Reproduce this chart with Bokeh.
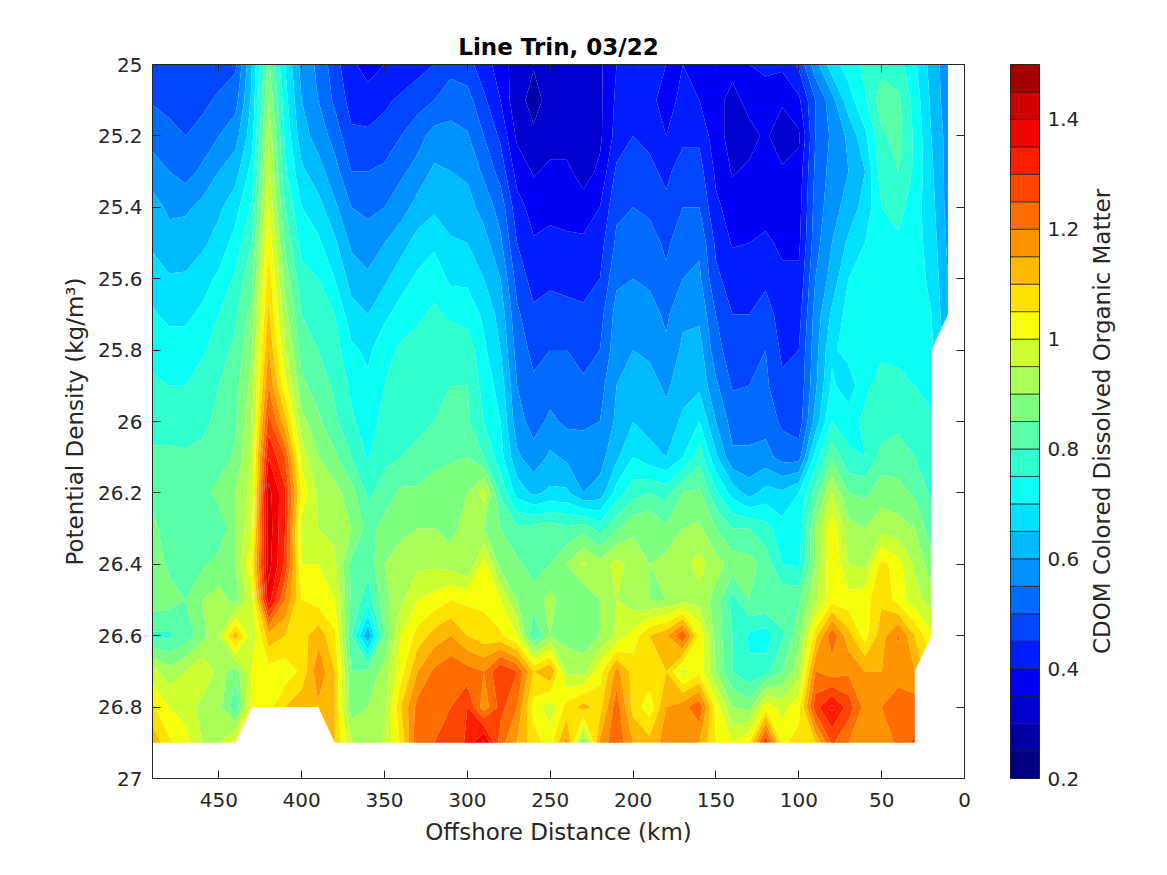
import numpy as np
from bokeh.plotting import figure
from bokeh.layouts import row
from bokeh.models import Range1d, LinearAxis, FixedTicker
from bokeh.embed import file_html
from bokeh.resources import INLINE

n = float("nan")
density = [25.0, 25.1, 25.2, 25.3, 25.4, 25.5, 25.6, 25.7, 25.8, 25.9,
           26.0, 26.1, 26.2, 26.3, 26.4, 26.5, 26.6, 26.7, 26.8, 26.9]
distance = [490, 480, 470, 460, 450, 440, 430, 420, 410, 400, 390, 380, 370, 360, 350, 340, 330,
            320, 310, 300, 290, 280, 270, 260, 250, 240, 230, 220, 210, 200, 190, 180, 170, 160,
            150, 140, 130, 120, 110, 100, 90, 80, 70, 60, 50, 40, 30, 20, 10]

c490 = [.47,.495,.53,.575,.62,.64,.68,.705,.73,.76,.78,.81,.84,.86,.88,.88,.79,.97,1.06,1.14]
c480 = [.47,.485,.515,.55,.59,.62,.655,.69,.72,.75,.78,.81,.82,.83,.84,.87,.79,.92,1.0,1.06]
c470 = [.47,.48,.50,.53,.59,.63,.655,.69,.72,.75,.77,.81,.82,.82,.81,.85,.82,.95,.98,1.02]
c460 = [.47,.485,.52,.56,.615,.64,.68,.71,.74,.78,.79,.81,.83,.82,.84,.90,.88,1.0,.93,.95]
c450 = [.47,.51,.55,.60,.64,.67,.71,.75,.78,.80,.81,.82,.87,.81,.87,.92,.95,.93,.92,.95]
c440 = [.49,.53,.58,.63,.68,.72,.76,.79,.81,.83,.84,.86,.90,.90,.90,.88,1.13,.87,.81,1.02]
c430 = [.65,.66,.68,.72,.76,.80,.84,.87,.90,.92,.94,.96,.97,.99,1.05,.98,.96,1.0,1.02,n]
c420 = [.86,.90,.94,.97,1.0,1.04,1.08,1.11,1.15,1.20,1.27,1.35,1.42,1.43,1.42,1.38,1.13,1.03,1.03,n]
c410 = [.70,.72,.74,.76,.80,.84,.88,.92,.96,1.02,1.12,1.25,1.31,1.30,1.29,1.20,1.10,1.02,1.10,n]
c400 = [.58,.60,.62,.66,.70,.73,.77,.80,.83,.86,.92,.98,1.04,.97,1.0,1.05,1.08,1.06,1.14,n]
c390 = [.54,.55,.58,.62,.67,.71,.75,.78,.80,.83,.86,.90,.94,.95,1.0,1.03,1.13,1.19,1.14,n]
c380 = [.47,.49,.53,.57,.61,.66,.70,.75,.77,.79,.81,.86,.92,.94,.96,1.0,1.06,1.10,1.10,1.10]
c370 = [.41,.43,.46,.50,.55,.59,.63,.67,.71,.74,.76,.80,.87,.90,.84,.84,.80,.85,.87,.96]
c360 = [.38,.42,.46,.50,.54,.57,.61,.65,.69,.71,.72,.745,.79,.83,.82,.77,.60,.86,.90,.92]
c350 = [.40,.44,.47,.51,.55,.60,.64,.69,.73,.75,.77,.79,.82,.87,.90,.88,.85,.92,.93,.96]
c340 = [.41,.46,.50,.54,.58,.63,.68,.72,.76,.77,.78,.80,.86,.89,.92,.94,1.0,1.03,1.10,1.06]
c330 = [.43,.48,.53,.57,.62,.67,.71,.74,.77,.79,.79,.81,.86,.90,.94,1.0,1.07,1.15,1.22,1.25]
c320 = [.45,.50,.57,.61,.64,.69,.73,.76,.79,.80,.80,.83,.88,.90,.94,1.02,1.12,1.21,1.24,1.25]
c310 = [.48,.53,.565,.60,.63,.655,.69,.74,.79,.80,.81,.84,.90,.88,.93,1.05,1.15,1.24,1.25,1.26]
c300 = [.47,.52,.555,.59,.62,.65,.69,.73,.78,.80,.81,.85,.90,.93,.90,1.04,1.10,1.22,1.30,1.31]
c290 = [.42,.46,.50,.54,.58,.62,.65,.69,.71,.73,.75,.80,.97,.90,1.02,1.04,1.07,1.20,1.17,1.42]
c280 = [.38,.40,.44,.48,.53,.56,.60,.63,.65,.68,.70,.72,.79,.85,.88,1.0,1.06,1.30,1.27,1.22]
c270 = [.32,.31,.34,.38,.42,.45,.48,.51,.53,.55,.57,.61,.68,.81,.86,.90,1.0,1.25,1.20,1.15]
c260 = [.302,.29,.305,.345,.38,.405,.43,.46,.485,.51,.53,.57,.64,.82,.83,.87,.80,1.1,1.03,1.07]
c250 = [.31,.31,.33,.36,.39,.41,.44,.47,.50,.53,.56,.61,.66,.83,.85,.92,.90,1.15,.97,1.03]
c240 = [.31,.31,.33,.36,.38,.41,.43,.47,.50,.52,.54,.59,.66,.81,.90,.86,.88,.94,1.07,1.17]
c230 = [.31,.31,.31,.33,.37,.41,.43,.46,.48,.51,.54,.58,.60,.83,.96,.85,.87,.93,1.12,.86]
c220 = [.34,.34,.34,.36,.40,.43,.45,.48,.50,.53,.55,.58,.62,.78,.92,.90,.90,1.03,1.08,1.16]
c210 = [.40,.41,.42,.46,.49,.51,.54,.57,.58,.60,.61,.64,.72,.84,.97,.95,.96,1.17,1.23,1.24]
c200 = [.41,.42,.45,.47,.50,.53,.55,.59,.60,.63,.65,.70,.78,.89,.93,.92,1.02,1.08,1.08,1.15]
c190 = [.41,.41,.44,.46,.49,.52,.54,.57,.59,.62,.63,.67,.80,.90,.90,.90,1.10,1.08,1.02,1.12]
c180 = [.40,.385,.40,.44,.46,.49,.51,.54,.56,.59,.62,.65,.78,.86,.92,.90,1.14,1.10,1.15,1.17]
c170 = [.40,.41,.44,.47,.50,.53,.55,.59,.61,.63,.66,.70,.85,.90,.93,.93,1.25,.98,1.18,1.15]
c160 = [.39,.40,.44,.47,.50,.54,.56,.59,.62,.64,.70,.78,.86,.91,.97,.93,1.04,1.03,1.24,1.15]
c150 = [.36,.37,.37,.39,.41,.44,.46,.50,.52,.56,.60,.66,.76,.85,.92,.88,.88,.90,1.03,1.05]
c140 = [.37,.33,.33,.345,.38,.395,.43,.45,.47,.495,.53,.56,.68,.80,.88,.78,.80,.80,.90,1.0]
c130 = [.40,.37,.33,.36,.385,.40,.43,.45,.48,.50,.53,.56,.63,.80,.87,.85,.74,.76,.88,1.05]
c120 = [.41,.38,.36,.37,.38,.41,.44,.47,.50,.51,.53,.57,.67,.77,.83,.85,.72,.78,1.03,1.30]
c110 = [.41,.36,.31,.36,.37,.39,.41,.43,.44,.46,.49,.53,.66,.72,.75,.84,.79,.85,.98,1.04]
c100 = [.46,.39,.34,.37,.38,.39,.41,.43,.45,.46,.47,.53,.70,.72,.74,.84,.88,.93,1.03,1.07]
c090 = [.58,.50,.50,.51,.52,.53,.55,.57,.58,.59,.62,.72,.82,.90,.90,.94,1.08,1.20,1.28,1.10]
c080 = [.68,.58,.56,.57,.58,.60,.62,.66,.69,.71,.75,.84,.95,1.03,1.05,1.03,1.24,1.17,1.36,1.26]
c070 = [.72,.68,.61,.60,.62,.66,.70,.72,.72,.67,.73,.76,.85,.92,.95,1.02,1.12,1.19,1.28,1.20]
c060 = [.77,.74,.69,.65,.67,.70,.72,.73,.74,.74,.76,.75,.84,.90,.94,1.03,1.03,1.15,1.18,1.17]
c050 = [.78,.83,.79,.78,.75,.74,.73,.73,.74,.77,.77,.82,.88,.93,1.07,1.09,1.13,1.15,1.20,1.17]
c040 = [.77,.81,.82,.80,.77,.74,.73,.73,.74,.76,.79,.82,.87,.92,1.02,1.03,1.21,1.16,1.25,1.21]
c030 = [.71,.73,.74,.74,.72,.72,.72,.72,.73,.75,.77,.80,.84,.90,.94,.97,1.10,1.15,1.23,1.26]
c020 = [.63,.64,.65,.66,.67,.68,.69,.70,.71,.73,.76,.78,.79,.82,.87,.93,1.01,n,n,n]
c010 = [.57,.57,.58,.58,.58,.59,.60,.61,n,n,n,n,n,n,n,n,n,n,n,n]

columns = [c490,c480,c470,c460,c450,c440,c430,c420,c410,c400,c390,c380,c370,c360,c350,c340,c330,
           c320,c310,c300,c290,c280,c270,c260,c250,c240,c230,c220,c210,c200,c190,c180,c170,c160,
           c150,c140,c130,c120,c110,c100,c090,c080,c070,c060,c050,c040,c030,c020,c010]

levels = [round(0.2 + 0.05 * i, 2) for i in range(27)]
y_ticks = [25, 25.2, 25.4, 25.6, 25.8, 26, 26.2, 26.4, 26.6, 26.8, 27]
x_ticks = [450, 400, 350, 300, 250, 200, 150, 100, 50, 0]
cb_ticks = [0.2, 0.4, 0.6, 0.8, 1, 1.2, 1.4]
FONT = "DejaVu Sans"
INK = "#262626"


def jet(t):
    def ch(c):
        return int(round(255 * min(1.0, max(0.0, 1.5 - abs(4 * t - c)))))
    return "#%02x%02x%02x" % (ch(3), ch(2), ch(1))


colors = [jet((lv - 0.2) / 1.3) for lv in levels[:-1]]

Z = np.array(columns).T          # rows = density, cols = distance (descending)
X = np.array(distance)[::-1]
Z = Z[:, ::-1]
Y = np.array(density)


def style_axis(ax, size="20px"):
    ax.axis_line_color = INK
    ax.axis_line_width = 1
    ax.major_tick_line_color = INK
    ax.major_tick_in = 8
    ax.major_tick_out = 0
    ax.minor_tick_in = 0
    ax.minor_tick_out = 0
    ax.major_label_text_color = INK
    ax.major_label_text_font = FONT
    ax.major_label_text_font_size = size
    ax.axis_label_text_color = INK
    ax.axis_label_text_font = FONT
    ax.axis_label_text_font_style = "normal"


p = figure(frame_width=812, frame_height=714,
           x_range=Range1d(490, 0), y_range=Range1d(27, 25),
           output_backend="svg", toolbar_location=None,
           min_border_left=152, min_border_right=46, min_border_top=64, min_border_bottom=80,
           x_axis_location="below", y_axis_location="left")
p.grid.visible = False
p.outline_line_color = None
p.background_fill_color = "white"

cr = p.contour(X, Y, Z, levels, fill_color=colors, line_color=None)
g = cr.fill_renderer.glyph
g.line_color = g.fill_color
g.line_width = 0.6

p.title.text = "Line Trin, 03/22"
p.title.align = "center"
p.title.text_font = FONT
p.title.text_font_size = "23px"
p.title.text_font_style = "bold"
p.title.text_color = "black"
p.title.standoff = 9

xa = p.xaxis[0]
xa.ticker = FixedTicker(ticks=x_ticks)
xa.axis_label = "Offshore Distance (km)"
style_axis(xa)
xa.axis_label_text_font_size = "23px"
xa.major_label_standoff = 14
xa.axis_label_standoff = 9

ya = p.yaxis[0]
ya.ticker = FixedTicker(ticks=y_ticks)
ya.major_label_overrides = {t: str(t) for t in y_ticks}
ya.axis_label = "Potential Density (kg/m\u00b3)"
style_axis(ya)
ya.axis_label_text_font_size = "23px"
ya.major_label_standoff = 10
ya.axis_label_standoff = 7

top = LinearAxis(ticker=FixedTicker(ticks=x_ticks), major_label_overrides={t: "" for t in x_ticks})
style_axis(top)
p.add_layout(top, "above")
right = LinearAxis(ticker=FixedTicker(ticks=y_ticks), major_label_overrides={t: "" for t in y_ticks})
style_axis(right)
p.add_layout(right, "right")

cb = figure(frame_width=29, frame_height=714,
            x_range=Range1d(0, 1), y_range=Range1d(0.2, 1.5),
            output_backend="svg", toolbar_location=None,
            min_border_left=0, min_border_right=46, min_border_top=64, min_border_bottom=80,
            x_axis_location=None, y_axis_location="right")
cb.grid.visible = False
cb.outline_line_color = INK
cb.quad(left=0, right=1, bottom=levels[:-1], top=levels[1:], fill_color=colors,
        line_color="#202020", line_width=0.7)
ca = cb.yaxis[0]
ca.ticker = FixedTicker(ticks=cb_ticks)
ca.major_label_overrides = {t: str(t) for t in cb_ticks}
style_axis(ca)
ca.major_tick_in = 0
ca.major_label_standoff = 8

lab = figure(frame_width=2, frame_height=714,
             x_range=Range1d(0, 1), y_range=Range1d(0.2, 1.5),
             output_backend="svg", toolbar_location=None,
             min_border_left=0, min_border_right=0, min_border_top=64, min_border_bottom=80,
             x_axis_location=None, y_axis_location="left")
lab.grid.visible = False
lab.outline_line_color = None
la = lab.yaxis[0]
la.ticker = FixedTicker(ticks=[])
la.axis_line_color = None
la.major_tick_line_color = None
la.minor_tick_line_color = None
la.axis_label = "CDOM Colored Dissolved Organic Matter"
la.axis_label_text_font = FONT
la.axis_label_text_font_size = "23px"
la.axis_label_text_font_style = "normal"
la.axis_label_text_color = INK
la.axis_label_standoff = 0

open("out.html", "w").write(file_html(row(p, cb, lab), INLINE))
